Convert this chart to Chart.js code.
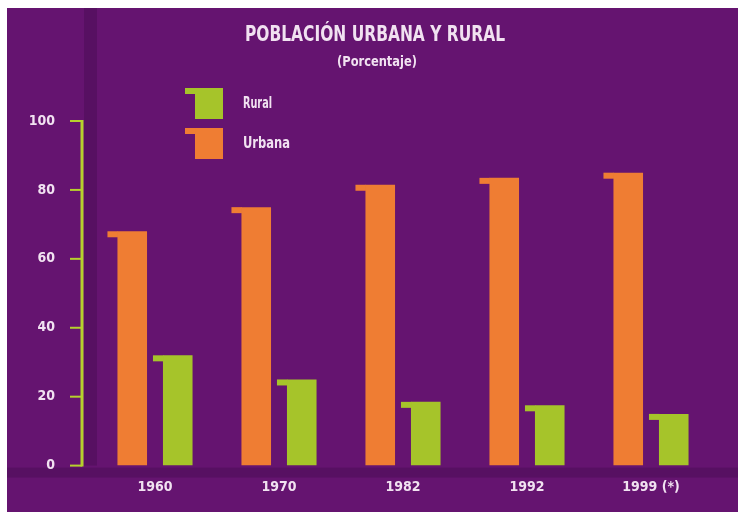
<!DOCTYPE html>
<html>
<head>
<meta charset="utf-8">
<script src="https://cdn.jsdelivr.net/npm/chart.js@4.4.0/dist/chart.umd.min.js"></script>
<style>
    html, body { margin: 0; padding: 0; background: #ffffff; }
    canvas { display: block; }
</style>
</head>
<body>
<canvas id="poblacion-chart" width="738" height="512"></canvas>
<script>
const years = ['1960', '1970', '1982', '1992', '1999 (*)'];
const urbana = [68, 75, 81.5, 83.5, 85];
const rural = [32, 25, 18.5, 17.5, 15];
const yTicks = [0, 20, 40, 60, 80, 100];

const FONT = "'Liberation Sans Narrow', 'DejaVu Sans', sans-serif";
// chart.js does not validate weight, so the stretch keyword rides along with it
const WEIGHT = 'bold condensed';
const TEXT = '#f1e2f1';
const ORANGE = '#ef7d33';
const GREEN = '#a6c42a';
const AXIS = '#b6d12c';

// squeeze a text horizontally to the width it has in the print
function narrowText(ctx, text, x, y, size, width) {
    ctx.font = `${WEIGHT} ${size}px ${FONT}`;
    const w = ctx.measureText(text).width;
    const sx = Math.min(1, width / w);
    ctx.save();
    ctx.translate(x, y);
    ctx.scale(sx, 1);
    ctx.fillText(text, 0, 0);
    ctx.restore();
}

// the little lip sticking out at the top left of every bar / swatch
function lip(ctx, x, top, color) {
    ctx.fillStyle = color;
    ctx.fillRect(x - 10, top, 10.5, 6);
}

// white strips left/top, purple card, a couple of darker bands
const backdrop = {
    id: 'backdrop',
    beforeDraw(chart) {
        const { ctx, width, height, chartArea } = chart;
        ctx.save();
        ctx.fillStyle = '#ffffff';
        ctx.fillRect(0, 0, width, height);
        ctx.fillStyle = '#651470';
        ctx.fillRect(7, 8, width - 7, height - 8);
        ctx.fillStyle = 'rgba(30, 0, 40, 0.18)';
        ctx.fillRect(chartArea.left - 9, 8, 13, chartArea.bottom - 8);
        ctx.fillRect(7, chartArea.bottom + 2, width - 7, 10);
        ctx.restore();
    },
};

// yellow-green y axis line with ticks on its left, plus bar lips
const axisLine = {
    id: 'axisLine',
    afterDatasetsDraw(chart) {
        const { ctx, chartArea, scales } = chart;
        const x = chartArea.left - 11;
        const y = scales.y;
        ctx.save();
        chart.data.datasets.forEach((ds, i) => {
            chart.getDatasetMeta(i).data.forEach((bar) => {
                lip(ctx, bar.x - bar.width / 2, bar.y, ds.backgroundColor);
            });
        });
        ctx.strokeStyle = AXIS;
        ctx.lineWidth = 3;
        ctx.beginPath();
        ctx.moveTo(x, y.getPixelForValue(100) - 1);
        ctx.lineTo(x, y.getPixelForValue(0) + 1);
        ctx.stroke();
        ctx.lineWidth = 2;
        yTicks.forEach((v) => {
            const py = y.getPixelForValue(v);
            ctx.beginPath();
            ctx.moveTo(x - 12, py);
            ctx.lineTo(x, py);
            ctx.stroke();
        });
        ctx.restore();
    },
};

// title, subtitle and the stacked legend (Rural first)
const header = {
    id: 'header',
    afterDraw(chart) {
        const { ctx } = chart;
        ctx.save();
        ctx.fillStyle = TEXT;
        ctx.textAlign = 'center';
        ctx.textBaseline = 'middle';
        narrowText(ctx, 'POBLACIÓN URBANA Y RURAL', 375, 36, 21, 260);
        narrowText(ctx, '(Porcentaje)', 377, 62, 14, 80);

        ctx.textAlign = 'left';
        chart.data.datasets.slice().reverse().forEach((ds, i) => {
            const top = 88 + i * 40;
            ctx.fillStyle = ds.backgroundColor;
            ctx.fillRect(195, top, 28, 31);
            lip(ctx, 195, top, ds.backgroundColor);
            ctx.fillStyle = TEXT;
            narrowText(ctx, ds.label, 243, top + 16, 15, ds.label === 'Rural' ? 29 : 47);
        });
        ctx.restore();
    },
};

const tickFont = { family: FONT, size: 14, weight: WEIGHT };

new Chart(document.getElementById('poblacion-chart'), {
    type: 'bar',
    data: {
        labels: years,
        datasets: [
            {
                label: 'Urbana',
                data: urbana,
                backgroundColor: ORANGE,
                categoryPercentage: 0.734,
                barPercentage: 0.65,
            },
            {
                label: 'Rural',
                data: rural,
                backgroundColor: GREEN,
                categoryPercentage: 0.734,
                barPercentage: 0.65,
            },
        ],
    },
    options: {
        responsive: false,
        animation: false,
        layout: { padding: { top: 121, left: 7, right: 25, bottom: 0 } },
        plugins: {
            legend: { display: false },
            tooltip: { enabled: false },
        },
        scales: {
            x: {
                grid: { display: false, drawTicks: false },
                border: { display: false },
                ticks: {
                    color: TEXT,
                    font: tickFont,
                    padding: 13,
                    maxRotation: 0,
                },
                afterFit: (s) => { s.height = 46; },
            },
            y: {
                min: 0,
                max: 100,
                grid: { display: false, drawTicks: false },
                border: { display: false },
                ticks: {
                    stepSize: 20,
                    color: TEXT,
                    font: tickFont,
                    padding: 38,
                },
                afterFit: (s) => { s.width = 86; },
            },
        },
    },
    plugins: [backdrop, axisLine, header],
});
</script>
</body>
</html>
